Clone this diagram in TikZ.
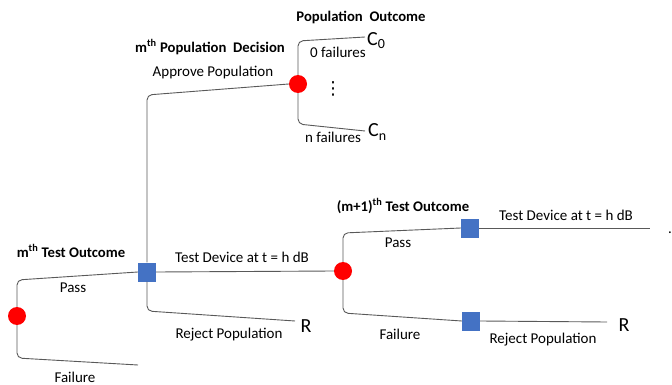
\documentclass[tikz,border=0pt]{standalone}
\usepackage{fontspec}
\setmainfont{Carlito}
\newfontfamily\symfont{DejaVu Sans}
\begin{document}
\begin{tikzpicture}[x=1pt,y=-1pt,
  link/.style={draw=black!65, line width=0.9pt, rounded corners=5pt},
  chance/.style={circle, fill=red, inner sep=0pt, minimum size=18pt},
  choice/.style={rectangle, fill=decblue, inner sep=0pt, minimum width=18pt, minimum height=19pt},
  lbl/.style={font=\fontsize{15}{17}\selectfont, inner sep=0pt},
  head/.style={font=\bfseries\fontsize{14.7}{16}\selectfont, inner sep=0pt},
  term/.style={font=\fontsize{20}{22}\selectfont, inner sep=0pt}]
\definecolor{decblue}{HTML}{4472C4}
\useasboundingbox (0,0) rectangle (672,385);

% decision and chance nodes
\node[chance] (d1) at (17,316) {};
\node[chance] (d2) at (298,84) {};
\node[chance] (d3) at (343,271) {};
\node[choice] (s1) at (147,272) {};
\node[choice] (s2) at (470,228) {};
\node[choice] (s3) at (471,321) {};

% free ends of branches
\coordinate (f1) at (138,365);
\coordinate (r1) at (295,321);
\coordinate (c0end) at (365,37);
\coordinate (cnend) at (365,131);
\coordinate (s2end) at (650,228);
\coordinate (s3end) at (607,322);

% branches
\draw[link] (d1.north) -- (17,280) -- (s1.west);
\draw[link] (d1.south) -- (17,358) -- (f1);
\draw[link] (s1.north) -- (147,95) -- (d2.west);
\draw[link] (s1.east) -- (d3.west);
\draw[link] (s1.south) -- (147,311) -- (r1);
\draw[link] (d2.north) -- (298,41) -- (c0end);
\draw[link] (d2.south) -- (298,124) -- (cnend);
\draw[link] (d3.north) -- (343,233) -- (s2.west);
\draw[link] (d3.south) -- (343,313) -- (s3.west);
\draw[link] (s2.east) -- (s2end);
\draw[link] (s3.east) -- (s3end);

% headings
\node[head] (h1) at (361,17) {Population\ \ Outcome};
\node[head] (h2) at (210,47) {m\textsuperscript{th} Population\ \ Decision};
\node[head] (h3) at (71,251) {m\textsuperscript{th} Test Outcome};
\node[head] (h4) at (403,206) {(m+1)\textsuperscript{th} Test Outcome};

% branch labels
\node[lbl] (a1) at (213,73) {Approve Population};
\node[lbl] (a2) at (338,52) {0 failures};
\node[lbl] (a3) at (333,137) {n failures};
\node[font=\symfont\fontsize{18}{20}\selectfont, inner sep=0pt] (a4) at (333,89) {⋮};
\node[lbl] (a5) at (242,257) {Test Device at t = h dB};
\node[lbl] (a6) at (229,335) {Reject Population};
\node[lbl] (a7) at (73,288) {Pass};
\node[lbl] (a8) at (75,377) {Failure};
\node[lbl] (a9) at (398,243) {Pass};
\node[lbl] (a10) at (400,334) {Failure};
\node[lbl] (a11) at (566,215) {Test Device at t = h dB};
\node[lbl] (a12) at (543,340) {Reject Population};
\node[lbl] (a13) at (670,233) {.};

% terminal values
\node[term, anchor=west] (t0) at (367,41) {C\textsubscript{0}};
\node[term, anchor=west] (tn) at (368,132) {C\textsubscript{n}};
\node[term] (t1) at (306,326) {R};
\node[term] (t2) at (624,325) {R};
\end{tikzpicture}
\end{document}
